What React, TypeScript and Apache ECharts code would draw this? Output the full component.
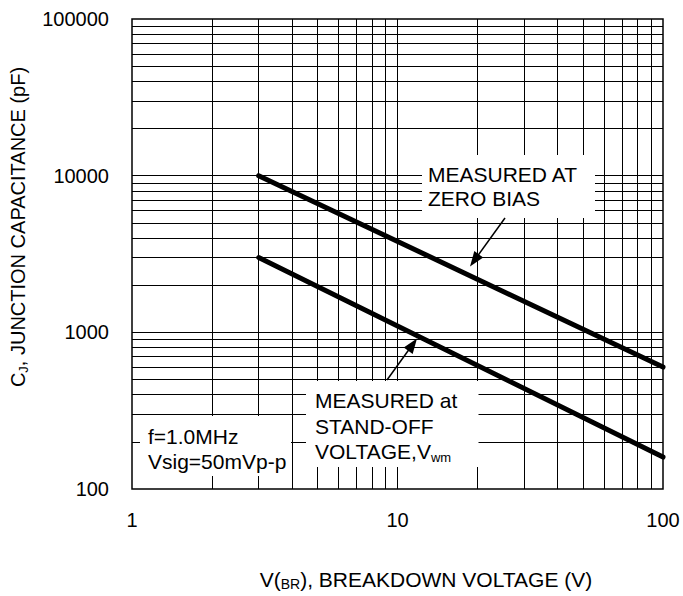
import React, { useEffect, useRef } from "react";
import * as echarts from "echarts";

// ---- Data ----
const X_MIN = 1;
const X_MAX = 100;
const Y_MIN = 100;
const Y_MAX = 100000;

const xTickLabels = ["1", "10", "100"];
const yTickLabels = ["100", "1000", "10000", "100000"];

// vertical grid lines (V)
const xGridValues = [2, 3, 4, 5, 6, 7, 8, 9, 10, 20, 30, 40, 50, 60, 70, 80, 90];
// horizontal grid lines (pF)
const yGridValues = [
  200, 300, 400, 500, 600, 700, 800, 900, 1000,
  2000, 3000, 4000, 5000, 6000, 7000, 8000, 9000, 10000,
  20000, 30000, 40000, 50000, 60000, 70000, 80000, 90000,
];

// Measured at zero bias: [V(BR), Cj pF]
const zeroBiasV = [3, 100];
const zeroBiasC = [10000, 600];
// Measured at stand-off voltage
const standOffV = [3, 100];
const standOffC = [3000, 160];

const FONT = "'Liberation Sans', Arial, Helvetica, sans-serif";
const ANN = 21;

function arrow(x1: number, y1: number, x2: number, y2: number) {
  const dx = x2 - x1;
  const dy = y2 - y1;
  const len = Math.sqrt(dx * dx + dy * dy);
  const ux = dx / len;
  const uy = dy / len;
  const hl = 15;
  const hw = 5.5;
  const bx = x2 - ux * hl;
  const by = y2 - uy * hl;
  const px = -uy * hw;
  const py = ux * hw;
  return [
    {
      type: "line",
      z: 20,
      shape: { x1, y1, x2: bx + ux * 2, y2: by + uy * 2 },
      style: { stroke: "#000", lineWidth: 1.5 },
    },
    {
      type: "polygon",
      z: 20,
      shape: {
        points: [
          [x2, y2],
          [bx + px, by + py],
          [bx - px, by - py],
        ],
      },
      style: { fill: "#000" },
    },
  ];
}

function txt(x: number, y: number, text: string, rich?: any) {
  return {
    type: "text",
    z: 20,
    x,
    y,
    style: {
      text,
      fill: "#000",
      fontFamily: FONT,
      fontSize: ANN,
      align: "left",
      verticalAlign: "middle",
      rich,
    },
  };
}

export default function App() {
  const ref = useRef<HTMLDivElement>(null);

  useEffect(() => {
    if (!ref.current) return;
    const chart = echarts.init(ref.current, undefined, { renderer: "svg" });

    const gridLines = [
      ...xGridValues.map((v) => ({ coords: [[v, Y_MIN], [v, Y_MAX]] })),
      ...yGridValues.map((v) => ({ coords: [[X_MIN, v], [X_MAX, v]] })),
    ];

    const annRich = {
      s: { fontSize: 13, fontFamily: FONT, fill: "#000", verticalAlign: "bottom", lineHeight: 25 },
      m: { fontSize: ANN, fontFamily: FONT, fill: "#000", lineHeight: 25 },
    };
    const titleRich = {
      s: { fontSize: 13, fontFamily: FONT, fill: "#000", verticalAlign: "bottom", lineHeight: 24 },
      m: { fontSize: 20, fontFamily: FONT, fill: "#000", lineHeight: 24 },
    };

    const option: any = {
      animation: false,
      backgroundColor: "#fff",
      textStyle: { fontFamily: FONT },
      grid: {
        left: 132,
        top: 19,
        width: 531,
        height: 470,
        show: true,
        borderColor: "#000",
        borderWidth: 1.5,
        backgroundColor: "transparent",
        containLabel: false,
        outerBoundsMode: "none",
      },
      xAxis: {
        type: "log",
        logBase: 10,
        min: X_MIN,
        max: X_MAX,
        axisLine: { show: false },
        axisTick: { show: false },
        splitLine: { show: false },
        axisLabel: {
          color: "#000",
          fontSize: 20,
          fontFamily: FONT,
          margin: 21,
          formatter: (v: number) => {
            const s = String(Math.round(v));
            return xTickLabels.includes(s) ? s : "";
          },
        },
      },
      yAxis: {
        type: "log",
        logBase: 10,
        min: Y_MIN,
        max: Y_MAX,
        axisLine: { show: false },
        axisTick: { show: false },
        splitLine: { show: false },
        axisLabel: {
          color: "#000",
          fontSize: 20,
          fontFamily: FONT,
          margin: 23,
          formatter: (v: number) => {
            const s = String(Math.round(v));
            return yTickLabels.includes(s) ? s : "";
          },
        },
      },
      series: [
        {
          type: "lines",
          coordinateSystem: "cartesian2d",
          silent: true,
          z: 1,
          lineStyle: { color: "#000", width: 1, opacity: 1, curveness: 0 },
          data: gridLines,
        },
        {
          type: "line",
          name: "zero bias",
          z: 10,
          symbol: "none",
          silent: true,
          lineStyle: { color: "#000", width: 5, cap: "round" },
          data: zeroBiasV.map((v, i) => [v, zeroBiasC[i]]),
        },
        {
          type: "line",
          name: "stand-off",
          z: 10,
          symbol: "none",
          silent: true,
          lineStyle: { color: "#000", width: 5, cap: "round" },
          data: standOffV.map((v, i) => [v, standOffC[i]]),
        },
      ],
      graphic: {
        elements: [
          // white boxes masking grid
          { type: "rect", z: 6, shape: { x: 422, y: 155, width: 173, height: 63 }, style: { fill: "#fff" } },
          { type: "rect", z: 6, shape: { x: 306, y: 381, width: 172.5, height: 86 }, style: { fill: "#fff" } },
          { type: "rect", z: 6, shape: { x: 140, y: 416, width: 151, height: 60 }, style: { fill: "#fff" } },
          txt(428, 174, "MEASURED AT"),
          txt(428, 198.5, "ZERO BIAS"),
          txt(315, 400, "MEASURED at"),
          txt(315, 426, "STAND-OFF"),
          txt(315, 451, "{m|VOLTAGE,V}{s|wm}", annRich),
          txt(148, 436, "f=1.0MHz"),
          txt(148, 461, "Vsig=50mVp-p"),
          ...arrow(505, 218, 470, 266.5),
          ...arrow(387, 380, 417, 338.5),
          {
            type: "text",
            z: 20,
            x: 18,
            y: 227,
            rotation: Math.PI / 2,
            style: {
              text: "{m|C}{s|J}{m|, JUNCTION CAPACITANCE (pF)}",
              align: "center",
              verticalAlign: "middle",
              rich: titleRich,
            },
          },
          {
            type: "text",
            z: 20,
            x: 426,
            y: 579,
            style: {
              text: "{m|V(}{b|BR}{m|), BREAKDOWN VOLTAGE (V)}",
              align: "center",
              verticalAlign: "middle",
              rich: {
                m: { fontSize: 21, fontFamily: FONT, fill: "#000", lineHeight: 24 },
                b: { fontSize: 14, fontFamily: FONT, fill: "#000", verticalAlign: "bottom", lineHeight: 22 },
              },
            },
          },
        ],
      },
    };

    chart.setOption(option);
    return () => chart.dispose();
  }, []);

  return (
    <div
      ref={ref}
      style={{ position: "fixed", left: 0, top: 0, width: 683, height: 596, background: "#fff" }}
    />
  );
}
